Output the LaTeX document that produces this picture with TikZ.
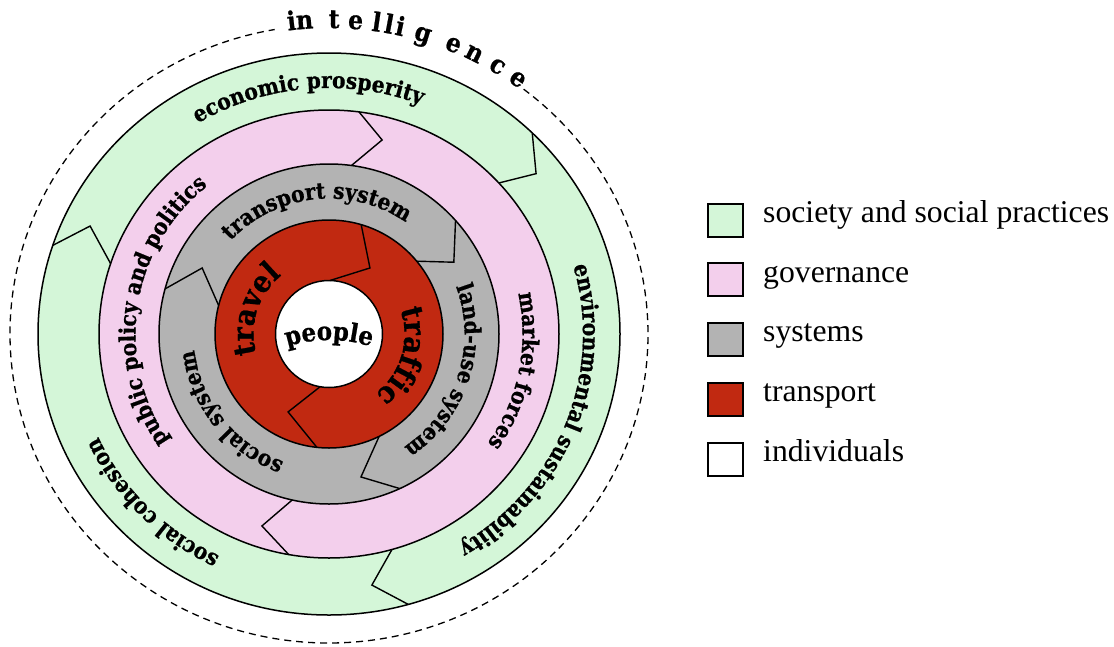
\documentclass[tikz,border=0pt]{standalone}
\usepackage{fontspec}
\setmainfont{Liberation Serif}
\newfontfamily\ringfont{DejaVu Serif Condensed}[BoldFeatures={FakeBold=0.8}]
\usetikzlibrary{positioning}
\usetikzlibrary{decorations.text}

\definecolor{society}{RGB}{212,246,216}
\definecolor{governance}{RGB}{243,207,236}
\definecolor{systems}{RGB}{179,179,179}
\definecolor{transport}{RGB}{193,41,17}

\newcommand{\ringlabel}{\ringfont\bfseries\fontsize{22.5}{26}\selectfont}
\newcommand{\redlabel}{\ringfont\bfseries\fontsize{30}{34}\selectfont}
\newcommand{\centerlabel}{\ringfont\bfseries\fontsize{25.5}{29}\selectfont}
\newcommand{\outerlabel}{\ringfont\bfseries\fontsize{26}{30}\selectfont}
\newcommand{\legfont}{\fontsize{31.7}{38}\selectfont}

\begin{document}
\begin{tikzpicture}[x=1pt, y=1pt,
		ring/.style={draw, line width=1.5pt},
		cut/.style={line width=1.4pt},
		arctext/.style={decorate, decoration={text along path, text align=center, text={#1}}},
		legbox/.style={draw, line width=2pt, minimum width=35pt, minimum height=33pt, inner sep=0pt},
		legtext/.style={inner sep=0pt, text height=0.68em, text depth=0.22em, font=\legfont}]
	\useasboundingbox (0,0) rectangle (1114,-646);
	\begin{scope}[shift={(329,-334)}]
		\draw [ring, fill=society] (0,0) ellipse [x radius=291, y radius=281];
		\draw [ring, fill=governance] (0,0) ellipse [x radius=230, y radius=224];
		\draw [ring, fill=systems] (0,0) circle [radius=170];
		\draw [ring, fill=transport] (0,0) circle [radius=114];
		\draw [ring, fill=white] (0,0) circle [radius=53.5];

		\draw [cut] (45.7:291 and 281) -- (38.6:265 and 257) -- (42.4:230 and 224);
		\draw [cut] (161.6:291 and 281) -- (155:263.6 and 255.5) -- (161.7:230 and 224);
		\draw [cut] (-74.2:291 and 281) -- (-80.6:262.5 and 254.5) -- (-74.1:230 and 224);
		\draw [cut] (82.5:230 and 224) -- (74.9:204 and 201) -- (82.4:170);
		\draw [cut] (-100.1:230 and 224) -- (-109:206 and 203) -- (-102.5:170);
		\draw [cut] (41.9:170) -- (29.9:144) -- (39.7:114);
		\draw [cut] (164.6:170) -- (152.5:143) -- (165.5:114);
		\draw [cut] (-65.4:170) -- (-77.4:146.5) -- (-63.9:114);
		\draw [cut] (73.6:114) -- (58.2:77.7) -- (89:53.5);
		\draw [cut] (-96.1:114) -- (-117.7:88) -- (-99.6:53.5);

		\draw [line width=1.3pt, dash pattern=on 7pt off 5pt] (52.4:319 and 309) arc [start angle=52.4, end angle=-260.2, x radius=319, y radius=309];
		\foreach \a/\l in {96.6/i, 94.3/n, 89.1/t, 85.3/e, 81.6/l, 79.4/l, 77.4/i, 73.2/g, 67.5/e, 63.5/n, 58.8/c, 54.5/e}
			\node [anchor=base, rotate=\a-90, font=\outerlabel, inner sep=0pt] at (\a:318 and 306) {\l};

		\path [arctext={|\ringlabel|economic prosperity}] (155:254 and 246) arc [start angle=155, end angle=35, x radius=254, y radius=246];
		\path [arctext={|\ringlabel|environmental sustainability}] (38.6:254 and 246) arc [start angle=38.6, end angle=-81.4, x radius=254, y radius=246];
		\path [arctext={|\ringlabel|social cohesion}] (-76:254 and 246) arc [start angle=-76, end angle=-196, x radius=254, y radius=246];
		\path [arctext={|\ringlabel|public policy and politics}] (231.5:193.5 and 190.5) arc [start angle=231.5, end angle=111.5, x radius=193.5, y radius=190.5];
		\path [arctext={|\ringlabel|market forces}] (48.7:193.5 and 190.5) arc [start angle=48.7, end angle=-71.3, x radius=193.5, y radius=190.5];
		\path [arctext={|\ringlabel|transport system}] (156:135.5) arc [start angle=156, end angle=36, radius=135.5];
		\path [arctext={|\ringlabel|land-use system}] (42:135.5) arc [start angle=42, end angle=-78, radius=135.5];
		\path [arctext={|\ringlabel|social system}] (-81.4:135.5) arc [start angle=-81.4, end angle=-201.4, radius=135.5];
		\path [arctext={|\redlabel|travel}] (222:75.5) arc [start angle=222, end angle=102, radius=75.5];
		\path [arctext={|\redlabel|traffic}] (43.3:75.5) arc [start angle=43.3, end angle=-76.7, radius=75.5];
		\begin{scope}[shift={(0,-146)}]
			\path [arctext={|\centerlabel|people}] (120:140) arc [start angle=120, end angle=60, radius=140];
		\end{scope}
	\end{scope}

	\node [legbox, fill=society] (k1) at (725.5,-220) {};
	\node [legtext, right=19pt of k1] (t1) {society and social practices};
	\node [legbox, fill=governance, below=24.8pt of k1] (k2) {};
	\node [legtext, right=19pt of k2] (t2) {governance};
	\node [legbox, fill=systems, below=24.8pt of k2] (k3) {};
	\node [legtext, right=19pt of k3] (t3) {systems};
	\node [legbox, fill=transport, below=24.8pt of k3] (k4) {};
	\node [legtext, right=19pt of k4] (t4) {transport};
	\node [legbox, fill=white, below=24.8pt of k4] (k5) {};
	\node [legtext, right=19pt of k5] (t5) {individuals};
\end{tikzpicture}
\end{document}
